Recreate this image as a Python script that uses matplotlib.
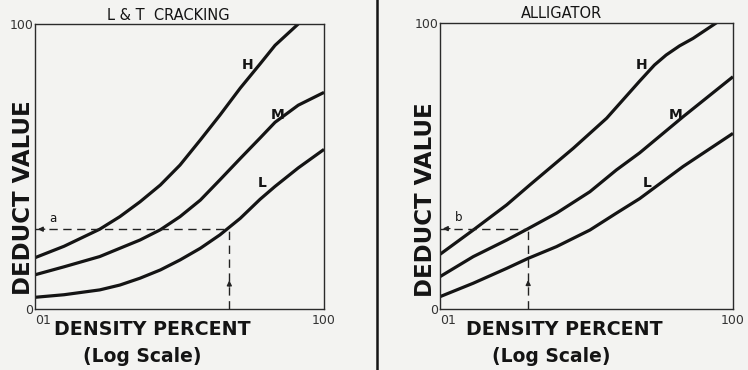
import matplotlib
matplotlib.use("Agg")
import matplotlib.pyplot as plt
from matplotlib.lines import Line2D

# ---------------- data ----------------
titles = ["L & T  CRACKING", "ALLIGATOR"]
curve_names = ["H", "M", "L"]

lt_H_x = [0.1, 0.2, 0.47, 0.76, 1.23, 2.0, 3.2, 5.2, 8.3, 13.5, 21.7, 31, 54]
lt_H_y = [18, 22, 28, 32.4, 37.6, 43.5, 50.5, 59.3, 68, 77.5, 86, 92.5, 100]
lt_M_x = [0.1, 0.2, 0.47, 0.76, 1.23, 2.0, 3.2, 5.2, 8.3, 13.5, 21.7, 31, 54, 100]
lt_M_y = [12, 14.8, 18.4, 21.3, 24.2, 27.8, 32.4, 38.2, 45.3, 52.8, 60, 65.5, 71.5, 76]
lt_L_x = [0.1, 0.2, 0.47, 0.76, 1.23, 2.0, 3.2, 5.2, 8.3, 13.5, 21.7, 31, 54, 100]
lt_L_y = [4.1, 5.0, 6.7, 8.4, 10.8, 13.7, 17.2, 21.3, 26, 31.8, 38.5, 43, 49.5, 56]

al_H_x = [0.1, 0.219, 0.482, 0.834, 2.32, 5.09, 11.1, 15.7, 20.7, 28.4, 39, 68]
al_H_y = [19, 27.5, 36.3, 43.3, 56.1, 66.6, 79.6, 85.2, 88.7, 91.9, 94.5, 100]
al_M_x = [0.1, 0.219, 0.482, 0.8, 1.56, 3.43, 6.4, 11.1, 30.8, 100]
al_M_y = [11.2, 18.2, 24.0, 28.0, 33.4, 40.9, 48.5, 54.5, 67.1, 81.1]
al_L_x = [0.1, 0.219, 0.482, 0.8, 1.56, 3.43, 6.4, 11.1, 30.8, 100]
al_L_y = [4.2, 8.9, 14.1, 17.6, 21.7, 27.5, 33.4, 38.5, 49.7, 61.3]

# example reading (dashed construction)
example_labels = ["a", "b"]
example_x = [10.4, 0.8]
example_y = [28, 28]

# curve label positions (data coords)
lt_label_x = [15.9, 32.6, 22.8]
lt_label_y = [85.6, 68, 44.2]
al_label_x = [11.7, 26, 13.2]
al_label_y = [85.2, 67.7, 44]

x_ticks = [0.1, 100]
x_ticklabels = ["01", "100"]
y_ticks = [0, 100]
y_ticklabels = ["0", "100"]

# ---------------- figure ----------------
BG = "#f3f3f1"
INK = "#141414"
fig = plt.figure(figsize=(7.48, 3.70), dpi=100, facecolor=BG)

axes_pos = [[0.0468, 0.1649, 0.3864, 0.7703],
            [0.5882, 0.1657, 0.3917, 0.7730]]
title_x = [0.46, 0.416]
ylabel_xy = [(-0.0415, 0.39), (-0.051, 0.38)]
xlabel_xy = [(0.405, -0.091), (0.423, -0.092)]
sub_xy = [(0.37, -0.186), (0.379, -0.185)]

panels = [
    ([(lt_H_x, lt_H_y), (lt_M_x, lt_M_y), (lt_L_x, lt_L_y)], lt_label_x, lt_label_y),
    ([(al_H_x, al_H_y), (al_M_x, al_M_y), (al_L_x, al_L_y)], al_label_x, al_label_y),
]

for i, (curves, lx, ly) in enumerate(panels):
    ax = fig.add_axes(axes_pos[i])
    ax.set_facecolor(BG)
    ax.set_xscale("log")
    ax.set_xlim(0.1, 100)
    ax.set_ylim(0, 100)
    for s in ax.spines.values():
        s.set_linewidth(1.0)
        s.set_color("#2a2a2a")
    ax.minorticks_off()
    ax.set_xticks(x_ticks)
    ax.set_xticklabels(x_ticklabels)
    ax.set_yticks(y_ticks)
    ax.set_yticklabels(y_ticklabels)
    ax.tick_params(length=0, labelsize=9, colors="#333333")
    ax.tick_params(axis="x", pad=3.5)
    ax.tick_params(axis="y", pad=1)
    ax.get_xticklabels()[0].set_horizontalalignment("left")

    for (xs, ys) in curves:
        ax.plot(xs, ys, color=INK, lw=2.3, solid_joinstyle="round",
                solid_capstyle="butt")
    for name, x, y in zip(curve_names, lx, ly):
        ax.text(x, y, name, fontsize=10, fontweight="bold", color=INK,
                ha="center", va="center")

    ex, ey = example_x[i], example_y[i]
    ax.plot([0.1, ex], [ey, ey], color="#222222", lw=1.0, ls=(0, (6, 4)))
    ax.plot([ex, ex], [0, ey], color="#222222", lw=1.0, ls=(0, (6, 4)))
    ax.annotate("", xy=(ex, 11), xytext=(ex, 7),
                arrowprops=dict(arrowstyle="-|>", color="#222222", lw=1.0,
                                mutation_scale=7))
    ax.annotate("", xy=(0.1, ey), xytext=(0.135, ey),
                arrowprops=dict(arrowstyle="-|>", color="#222222", lw=1.0,
                                mutation_scale=7))
    ax.text(0.155, ey + 1.5, example_labels[i], fontsize=8.5, color=INK,
            ha="center", va="bottom")

    ax.set_title(titles[i], fontsize=10.5, color=INK, pad=3.2, x=title_x[i])

    ax.set_ylabel("DEDUCT VALUE", fontsize=16.5, fontweight="bold", color=INK)
    ax.yaxis.set_label_coords(*ylabel_xy[i])
    ax.yaxis.label.set_verticalalignment("center")

    ax.set_xlabel("DENSITY PERCENT", fontsize=13.7, fontweight="bold", color=INK)
    ax.xaxis.set_label_coords(*xlabel_xy[i])
    ax.xaxis.label.set_verticalalignment("baseline")

    ax.text(sub_xy[i][0], sub_xy[i][1], "(Log Scale)", transform=ax.transAxes,
            fontsize=13.5, fontweight="bold", color=INK, ha="center", va="baseline")

# divider line between panels
fig.add_artist(Line2D([0.5035, 0.5035], [0, 1], transform=fig.transFigure,
                      color=INK, lw=1.8))

fig.savefig("out.png", dpi=100, facecolor=BG)
